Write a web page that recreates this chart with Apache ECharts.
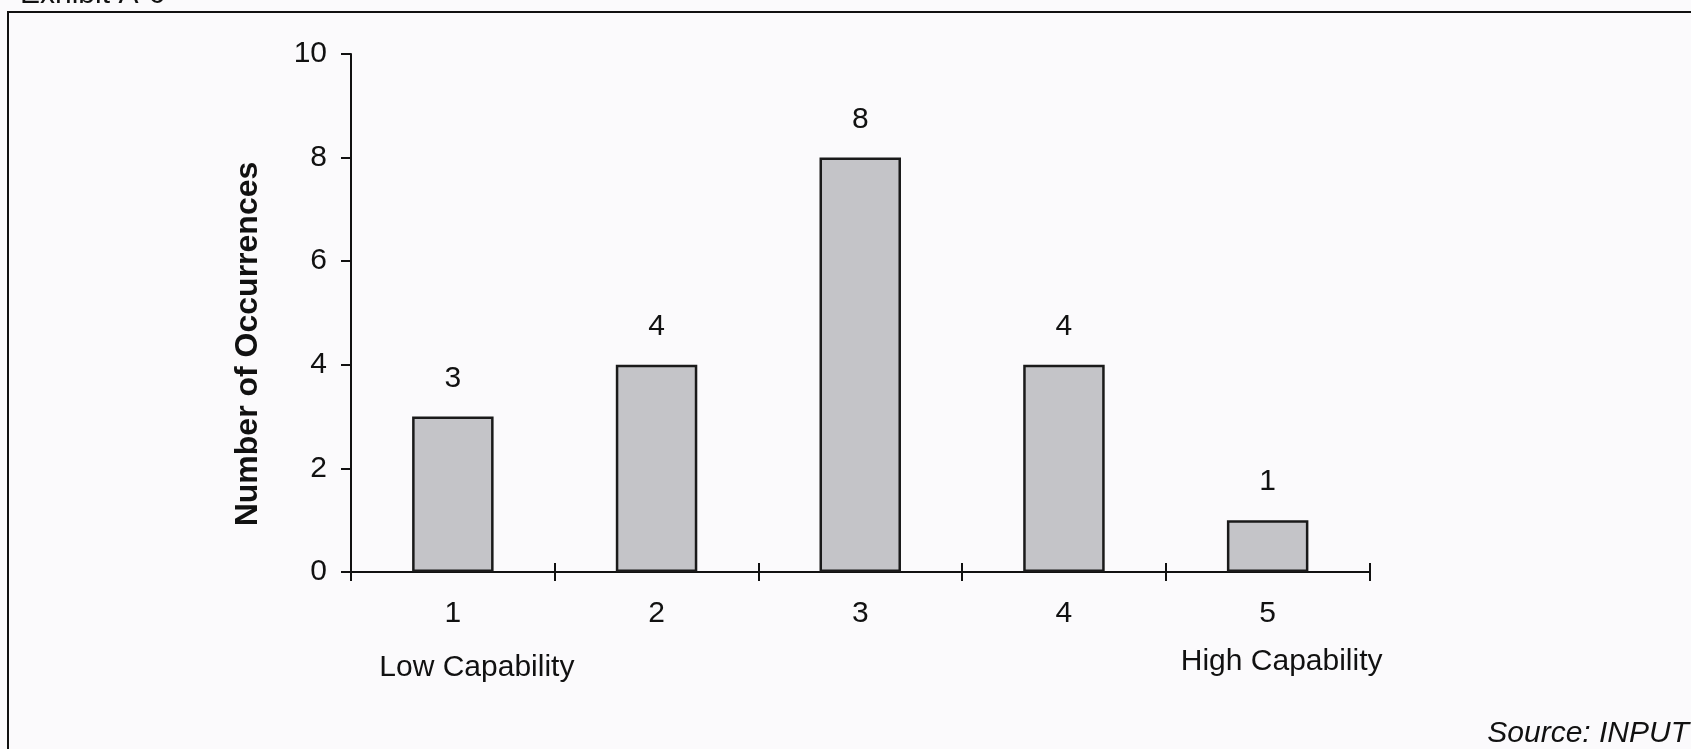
<!DOCTYPE html>
<html>
<head>
<meta charset="utf-8">
<script src="https://cdn.jsdelivr.net/npm/echarts@6/dist/echarts.min.js"></script>
<style>
html,body{margin:0;padding:0;background:#fbfafc;}
#c{width:1691px;height:749px;}
</style>
</head>
<body>
<div id="c"></div>
<script>
const categories = ['1', '2', '3', '4', '5'];
const occurrences = [3, 4, 8, 4, 1];
const endLabels = ['Low Capability', '', '', '', 'High Capability'];
const yTicks = [0, 2, 4, 6, 8, 10];
const yTitle = 'Number of Occurrences';
const exhibitTitle = 'Exhibit A-6';
const sourceNote = 'Source: INPUT';

const FONT = '"Liberation Sans", Arial, sans-serif';
const FS = 30;
const chart = echarts.init(document.getElementById('c'), null, {renderer: 'canvas'});

const option = {
  backgroundColor: '#fbfafc',
  animation: false,
  grid: {left: 351, right: 321.5, top: 54, bottom: 177},
  xAxis: [{
    type: 'category',
    data: categories,
    boundaryGap: true,
    axisLine: {lineStyle: {color: '#111', width: 2}},
    axisTick: {show: true, length: 9, inside: false, lineStyle: {color: '#111', width: 2}},
    axisLabel: {fontFamily: FONT, fontSize: FS, color: '#111', margin: 27},
    splitLine: {show: false}
  }, {
    type: 'category',
    data: categories,
    position: 'bottom',
    boundaryGap: true,
    axisLine: {show: false},
    axisTick: {show: true, length: 9, inside: true, lineStyle: {color: '#111', width: 2}},
    axisLabel: {show: false},
    splitLine: {show: false}
  }],
  yAxis: {
    type: 'value',
    min: yTicks[0],
    max: yTicks[yTicks.length - 1],
    interval: yTicks[1] - yTicks[0],
    axisLine: {show: true, lineStyle: {color: '#111', width: 2}},
    axisTick: {show: true, length: 10, lineStyle: {color: '#111', width: 2}},
    axisLabel: {fontFamily: FONT, fontSize: FS, color: '#111', margin: 24},
    splitLine: {show: false}
  },
  series: [{
    type: 'bar',
    data: occurrences,
    barWidth: '40%',
    itemStyle: {color: '#c4c4c8', borderColor: '#1a1a1a', borderWidth: 2.5},
    label: {show: true, position: 'top', distance: 23, fontFamily: FONT, fontSize: FS, color: '#111'}
  }]
};
chart.setOption(option);

const g = [];
// frame
g.push({type: 'polyline', shape: {points: [[8, 760], [8, 12], [1700, 12]]}, style: {stroke: '#111', lineWidth: 2, fill: null}, silent: true});
// exhibit title, mostly cut at top of the page
g.push({type: 'text', x: 20, y: -20, style: {text: exhibitTitle, font: '30px ' + FONT, fill: '#111', align: 'left', verticalAlign: 'top'}});
// y title
g.push({type: 'text', x: 248, y: 344, rotation: Math.PI / 2,
  style: {text: yTitle, font: 'bold 32px ' + FONT, fill: '#111', align: 'center', verticalAlign: 'middle'}});
// end labels under categories
const endOffsets = [24, 0, 0, 0, 14];
const endY = [668, 0, 0, 0, 662];
endLabels.forEach((t, i) => {
  if (!t) return;
  const p = chart.convertToPixel({xAxisIndex: 0}, categories[i]);
  g.push({type: 'text', x: p + endOffsets[i], y: endY[i],
    style: {text: t, font: FS + 'px ' + FONT, fill: '#111', align: 'center', verticalAlign: 'middle'}});
});
// source
g.push({type: 'text', x: 1689, y: 734,
  style: {text: sourceNote, font: 'italic 30px ' + FONT, fill: '#111', align: 'right', verticalAlign: 'middle'}});
chart.setOption({graphic: g});
</script>
</body>
</html>
